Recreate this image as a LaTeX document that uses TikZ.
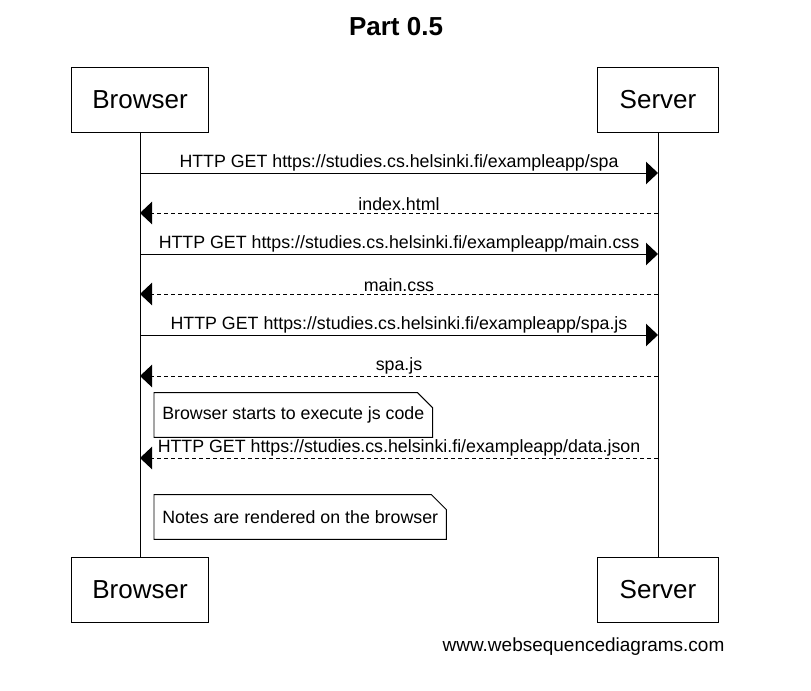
\documentclass[tikz,border=0pt]{standalone}
\usepackage{fontspec}
\setmainfont{Liberation Sans}
\usetikzlibrary{arrows.meta}
\tikzset{actorbox/.style={draw, line width=0.7pt, minimum height=1.625cm, font=\fontsize{18.5}{22}\selectfont}}
\tikzset{msg/.style={-{Triangle[length=3mm,width=5.6mm]}, line width=0.7pt}}
\tikzset{reply/.style={msg, dash pattern=on 1mm off 0.75mm}}
\tikzset{msglabel/.style={font=\fontsize{12.65}{15}\selectfont, inner sep=1pt}}
\tikzset{notebox/.style={font=\fontsize{12.65}{15}\selectfont, inner xsep=0.2cm, minimum height=1.1cm, anchor=west}}

\begin{document}
\begin{tikzpicture}[x=0.025cm, y=-0.025cm]
\useasboundingbox (0,0) rectangle (811,691);

% title
\node [font=\bfseries\fontsize{18.5}{22}\selectfont] (title) at (396, 27) {Part 0.5};

% actors
\node [style = actorbox, minimum width=3.425cm] (bt) at (140, 100) {Browser};
\node [style = actorbox, minimum width=3cm] (st) at (658, 100) {Server};
\node [style = actorbox, minimum width=3.425cm] (bb) at (140, 589.5) {Browser};
\node [style = actorbox, minimum width=3cm] (sb) at (658, 589.5) {Server};

% lifelines
\draw [line width=0.7pt] (bt) to (bb);
\draw [line width=0.7pt] (st) to (sb);

% points on the lifelines
\foreach \i/\y in {1/173, 2/213, 3/254, 4/294, 5/335, 6/376, 7/458}{
  \coordinate (b\i) at (140, \y);
  \coordinate (s\i) at (658, \y);
}

% messages
\draw [msg] (b1) to node [msglabel, above] {HTTP GET https://studies.cs.helsinki.fi/exampleapp/spa} (s1);
\draw [reply] (s2) to node [msglabel, above] {index.html} (b2);
\draw [msg] (b3) to node [msglabel, above] {HTTP GET https://studies.cs.helsinki.fi/exampleapp/main.css} (s3);
\draw [reply] (s4) to node [msglabel, above] {main.css} (b4);
\draw [msg] (b5) to node [msglabel, above] {HTTP GET https://studies.cs.helsinki.fi/exampleapp/spa.js} (s5);
\draw [reply] (s6) to node [msglabel, above] {spa.js} (b6);
\draw [reply] (s7) to node [msglabel, above] {HTTP GET https://studies.cs.helsinki.fi/exampleapp/data.json} (b7);

% notes
\node [style = notebox] (n1) at (154, 415) {Browser starts to execute js code};
\draw [line width=0.7pt] (n1.south west) -- (n1.north west) -- ([xshift=-0.375cm]n1.north east)
  -- ([yshift=-0.375cm]n1.north east) -- (n1.south east) -- cycle;
\node [style = notebox] (n2) at (154, 517) {Notes are rendered on the browser};
\draw [line width=0.7pt] (n2.south west) -- (n2.north west) -- ([xshift=-0.375cm]n2.north east)
  -- ([yshift=-0.375cm]n2.north east) -- (n2.south east) -- cycle;

% footer
\node [font=\fontsize{13.5}{16}\selectfont] (foot) at (583.5, 647) {www.websequencediagrams.com};
\end{tikzpicture}
\end{document}
